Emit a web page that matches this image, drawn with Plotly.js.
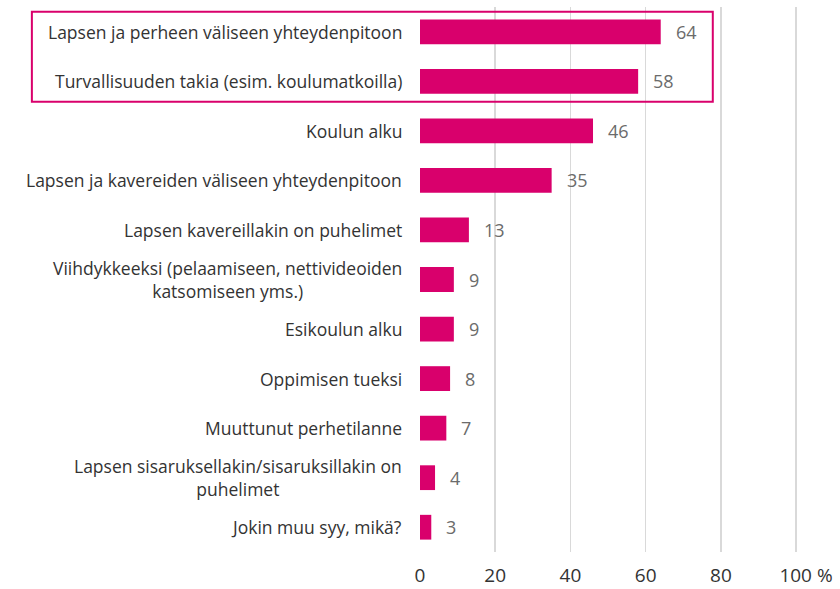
<!DOCTYPE html>
<html><head><meta charset="utf-8">
<script src="https://cdn.plot.ly/plotly-3.0.1.min.js"></script>
<style>html,body{margin:0;padding:0;background:#fff}#chart{width:840px;height:589px}</style>
</head><body><div id="chart"></div>
<script>
const categories = [
  "Lapsen ja perheen väliseen yhteydenpitoon",
  "Turvallisuuden takia (esim. koulumatkoilla)",
  "Koulun alku",
  "Lapsen ja kavereiden väliseen yhteydenpitoon",
  "Lapsen kavereillakin on puhelimet",
  "Viihdykkeeksi (pelaamiseen, nettivideoiden<br>katsomiseen yms.)",
  "Esikoulun alku",
  "Oppimisen tueksi",
  "Muuttunut perhetilanne",
  "Lapsen sisaruksellakin/sisaruksillakin on<br>puhelimet",
  "Jokin muu syy, mikä?"
];
const values = [64, 58, 46, 35, 13, 9, 9, 8, 7, 4, 3];
const tickVals = [0, 20, 40, 60, 80, 100];
const tickLabels = ["0", "20", "40", "60", "80", "&nbsp;&nbsp;&nbsp;&nbsp;100 %"];

const FONT = "Open Sans, sans-serif";
const ids = categories.map((c, i) => i);
const XMAX = 100.5;
const PW = 376 * XMAX / 100;

const annotations = [];
categories.forEach((c, i) => {
  annotations.push({
    xref: 'paper', yref: 'y', x: -16 / PW, y: i, text: c,
    xanchor: 'right', yanchor: 'middle', align: 'center', showarrow: false,
    font: {family: FONT, size: 17.5, color: '#333333'}
  });
  annotations.push({
    xref: 'x', yref: 'y', x: values[i], y: i, text: String(values[i]),
    xanchor: 'left', yanchor: 'middle', showarrow: false, xshift: 13,
    font: {family: FONT, size: 18, color: '#6b6b6b'}
  });
});

const trace = {
  type: 'bar', orientation: 'h', x: values, y: ids,
  marker: {color: '#d9006c'}, width: 0.5, hoverinfo: 'none'
};

const layout = {
  width: 840, height: 589,
  margin: {l: 420, r: 840 - 420 - PW, t: 7, b: 37},
  paper_bgcolor: '#fff', plot_bgcolor: '#fff',
  showlegend: false,
  xaxis: {
    range: [0, XMAX], tickvals: tickVals, ticktext: tickLabels,
    showgrid: true, gridcolor: '#d9d9d9', gridwidth: 1.5, zeroline: false,
    showline: false, ticks: '', tickfont: {family: FONT, size: 19, color: '#333333'},
    ticklabelstandoff: 10, fixedrange: true
  },
  yaxis: {
    range: [10.5, -0.5], showticklabels: false, showgrid: false, zeroline: false,
    showline: false, ticks: '', fixedrange: true
  },
  annotations: annotations,
  shapes: [{
    type: 'rect', xref: 'paper', yref: 'paper',
    x0: (32 - 420) / PW, x1: (712.7 - 420) / PW,
    y0: (552 - 101.7) / 545, y1: (552 - 11.7) / 545,
    line: {color: '#d9006c', width: 2}, fillcolor: 'rgba(0,0,0,0)'
  }]
};

Plotly.newPlot('chart', [trace], layout, {displayModeBar: false, staticPlot: true});
</script></body></html>
